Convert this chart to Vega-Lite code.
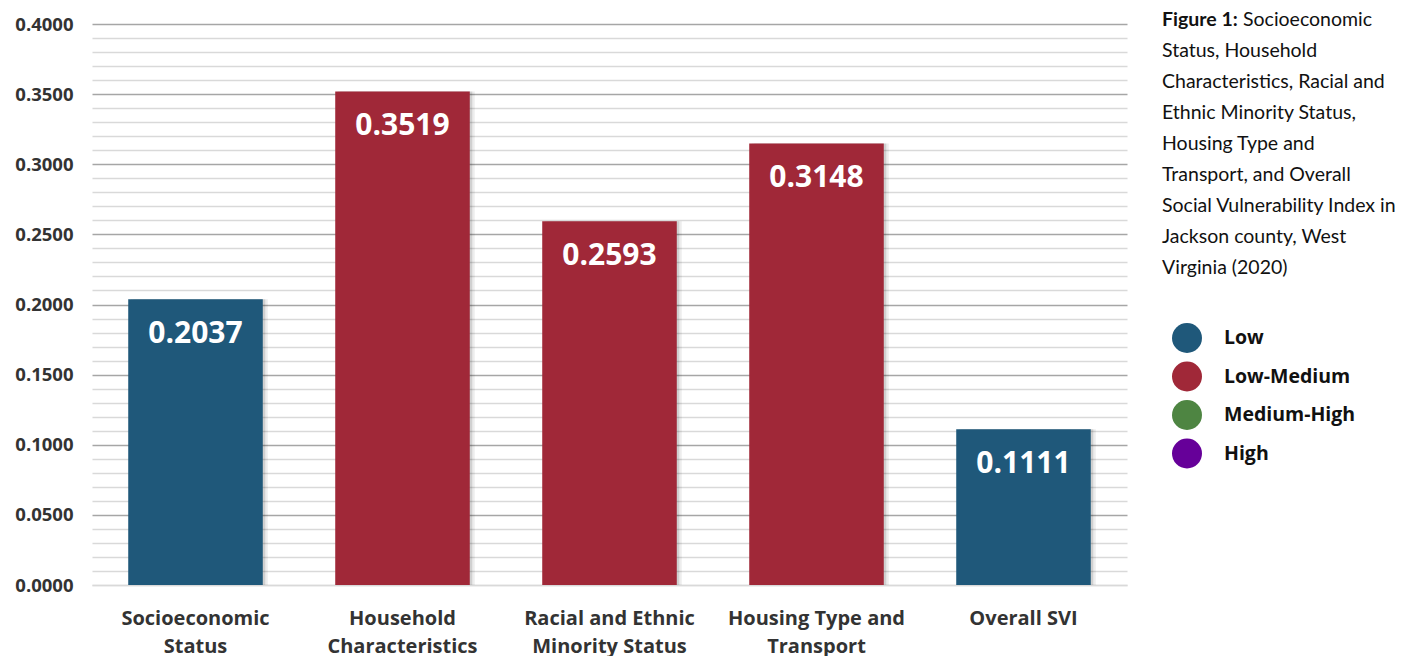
{
  "$schema": "https://vega.github.io/schema/vega-lite/v6.json",
  "width": 1035,
  "height": 561,
  "autosize": {"type": "none"},
  "padding": {"left": 92, "top": 24, "right": 275, "bottom": 71},
  "background": "white",
  "config": {"view": {"stroke": null}},
  "data": {"values": [
    {"category": "Socioeconomic Status", "value": 0.2037, "level": "Low"},
    {"category": "Household Characteristics", "value": 0.3519, "level": "Low-Medium"},
    {"category": "Racial and Ethnic Minority Status", "value": 0.2593, "level": "Low-Medium"},
    {"category": "Housing Type and Transport", "value": 0.3148, "level": "Low-Medium"},
    {"category": "Overall SVI", "value": 0.1111, "level": "Low"}
  ]},
  "encoding": {
    "x": {"field": "category", "type": "nominal", "sort": null,
      "scale": {"paddingInner": 0.35, "paddingOuter": 0.175},
      "axis": {"title": null, "labelAngle": 0, "domain": false, "ticks": false,
        "labelFont": "Open Sans", "labelFontWeight": "bold", "labelFontSize": 20, "labelColor": "#333333",
        "labelPadding": 23, "labelLineHeight": 28, "labelBaseline": "top",
        "labelExpr": "datum.value == 'Socioeconomic Status' ? ['Socioeconomic','Status'] : datum.value == 'Household Characteristics' ? ['Household','Characteristics'] : datum.value == 'Racial and Ethnic Minority Status' ? ['Racial and Ethnic','Minority Status'] : datum.value == 'Housing Type and Transport' ? ['Housing Type and','Transport'] : datum.value"}}
  },
  "layer": [
    {
      "mark": {"type": "rule"},
      "encoding": {
        "y": {"field": "value", "type": "quantitative", "aggregate": "max", "scale": {"domain": [0, 0.4], "nice": false},
          "axis": {"title": null, "orient": "left", "labels": false, "ticks": false, "domain": false,
            "grid": true, "gridColor": "#d9d9d9", "gridWidth": 1.5,
            "values": [0, 0.01, 0.02, 0.03, 0.04, 0.06, 0.07, 0.08, 0.09, 0.11, 0.12, 0.13, 0.14, 0.16, 0.17, 0.18, 0.19, 0.21, 0.22, 0.23, 0.24, 0.26, 0.27, 0.28, 0.29, 0.31, 0.32, 0.33, 0.34, 0.36, 0.37, 0.38, 0.39]}},
        "opacity": {"value": 0}
      }
    },
    {
      "mark": {"type": "bar", "xOffset": 5, "color": "#000000", "opacity": 0.07},
      "encoding": {
        "y": {"field": "value", "type": "quantitative",
          "axis": {"title": null, "orient": "left", "domain": false, "ticks": false,
            "grid": true, "gridWidth": 1.5,
            "values": [0, 0.05, 0.1, 0.15, 0.2, 0.25, 0.3, 0.35, 0.4],
            "gridColor": {"condition": {"test": "datum.value == 0", "value": "#d9d9d9"}, "value": "#a6a6a6"},
            "format": ".4f", "labelFont": "Open Sans", "labelFontWeight": "bold", "labelFontSize": 18.5, "labelColor": "#333333", "labelPadding": 19}}
      }
    },
    {
      "mark": {"type": "bar", "xOffset": 2.5, "color": "#000000", "opacity": 0.12},
      "encoding": {"y": {"field": "value", "type": "quantitative", "axis": null}}
    },
    {
      "mark": {"type": "bar"},
      "encoding": {
        "y": {"field": "value", "type": "quantitative", "axis": null},
        "color": {"field": "level", "type": "nominal",
          "scale": {"domain": ["Low", "Low-Medium", "Medium-High", "High"], "range": ["#1f587a", "#a02838", "#4e8542", "#660099"]},
          "legend": {"title": null, "orient": "none", "legendX": 1080, "legendY": 299, "padding": 0,
            "symbolType": "circle", "symbolSize": 900, "symbolStrokeWidth": 0, "symbolOpacity": 1,
            "labelFont": "Open Sans", "labelFontWeight": "bold", "labelFontSize": 19.5, "labelColor": "#111111",
            "labelOffset": 22, "rowPadding": 8.5}}
      }
    },
    {
      "mark": {"type": "text", "color": "white", "font": "Open Sans", "fontWeight": "bold", "fontSize": 30, "baseline": "middle", "dy": 35},
      "encoding": {
        "y": {"field": "value", "type": "quantitative", "axis": null},
        "text": {"field": "value", "type": "quantitative", "format": ".4f"}
      }
    },
    {
      "data": {"values": [{"t": "Figure 1:"}]},
      "mark": {"type": "text", "font": "Lato", "fontWeight": "bold", "fontSize": 19.5, "color": "#111111", "align": "left", "baseline": "alphabetic"},
      "encoding": {"x": {"value": 1070}, "y": {"value": 2}, "text": {"field": "t"}}
    },
    {
      "data": {"values": [{"t": "Socioeconomic"}]},
      "mark": {"type": "text", "font": "Lato", "fontSize": 19.5, "color": "#111111", "align": "left", "baseline": "alphabetic"},
      "encoding": {"x": {"value": 1151}, "y": {"value": 2}, "text": {"field": "t"}}
    },
    {
      "data": {"values": [{"t": ["Status, Household", "Characteristics, Racial and", "Ethnic Minority Status,", "Housing Type and", "Transport, and Overall", "Social Vulnerability Index in", "Jackson county, West", "Virginia (2020)"]}]},
      "mark": {"type": "text", "font": "Lato", "fontSize": 19.5, "color": "#111111", "align": "left", "baseline": "alphabetic", "lineHeight": 31},
      "encoding": {"x": {"value": 1070}, "y": {"value": 33}, "text": {"field": "t"}}
    }
  ],
  "resolve": {"axis": {"y": "independent"}}
}
